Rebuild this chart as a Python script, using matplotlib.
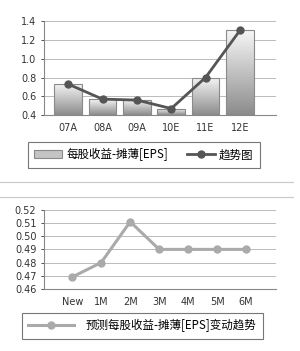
import matplotlib
matplotlib.use('Agg')
import matplotlib.pyplot as plt
import numpy as np
from matplotlib.lines import Line2D
from matplotlib.patches import Patch

plt.rcParams['font.family'] = ['DejaVu Sans', 'Noto Sans CJK SC']

# data
years = ['07A', '08A', '09A', '10E', '11E', '12E']
eps = [0.73, 0.57, 0.56, 0.47, 0.80, 1.30]
trend = [0.73, 0.57, 0.56, 0.47, 0.80, 1.30]

months = ['New', '1M', '2M', '3M', '4M', '5M', '6M']
fcst = [0.469, 0.480, 0.511, 0.490, 0.490, 0.490, 0.490]

fig = plt.figure(figsize=(3.0, 3.51), dpi=100)
fig.patch.set_facecolor('white')

grid_c = '#b0b0b0'
tick_fs = 7

def style_axes(ax):
    for s in ['top', 'right']:
        ax.spines[s].set_visible(False)
    for s in ['left', 'bottom']:
        ax.spines[s].set_color('#888888')
        ax.spines[s].set_linewidth(0.8)
    ax.yaxis.grid(True, color=grid_c, linewidth=0.6)
    ax.set_axisbelow(True)
    ax.tick_params(axis='both', labelsize=tick_fs, colors='#333333', length=2, width=0.6)
    ax.tick_params(axis='x', length=0, pad=6)

# ---- top chart ----
ax1 = fig.add_axes([0.147, 0.672, 0.773, 0.268])
x = np.arange(len(years))
bars = ax1.bar(x, [v - 0.4 for v in eps], bottom=0.4, width=0.81,
               color='none', edgecolor='#8a8a8a', linewidth=0.8, zorder=2)
grad = np.linspace(0, 1, 100).reshape(-1, 1)
cmap = matplotlib.colors.LinearSegmentedColormap.from_list('g', ['#f6f6f6', '#8c8c8c'])
for b in bars:
    x0, y0 = b.get_x(), b.get_y()
    w, h = b.get_width(), b.get_height()
    im = ax1.imshow(grad, cmap=cmap, origin='upper',
                    extent=(x0, x0 + w, y0, y0 + h), aspect='auto', zorder=1.5)
    im.set_clip_path(b)
ax1.plot(x, trend, 'o-', color='#555555', linewidth=2, markersize=5, zorder=3)
ax1.set_xlim(-0.7, 6.05)
ax1.set_ylim(0.4, 1.4)
ax1.set_yticks([0.4, 0.6, 0.8, 1.0, 1.2, 1.4])
ax1.set_yticklabels(['0.4', '0.6', '0.8', '1.0', '1.2', '1.4'])
ax1.set_xticks(x)
ax1.set_xticklabels(years)
style_axes(ax1)

leg_prop = {'family': ['Noto Sans CJK SC', 'DejaVu Sans'], 'size': 8.3}

h1 = [Patch(facecolor='#c4c4c4', edgecolor='#8a8a8a', linewidth=0.8),
      Line2D([], [], color='#555555', marker='o', linewidth=2, markersize=5)]
leg1 = fig.legend(h1, ['每股收益-摊薄[EPS]', '趋势图'], loc='center',
                  bbox_to_anchor=(0.48, 0.559), ncol=2,
                  frameon=True, fancybox=False, edgecolor='#555555',
                  handlelength=2.4, handletextpad=0.4, columnspacing=1.6,
                  borderpad=0.55, prop=leg_prop)
leg1.get_frame().set_linewidth(0.8)

# separator lines
fig.add_artist(Line2D([0, 0.977], [1 - 182 / 351] * 2, color='#c8c8c8', linewidth=0.8))
fig.add_artist(Line2D([0, 0.977], [1 - 197 / 351] * 2, color='#c8c8c8', linewidth=0.8))

# ---- bottom chart ----
ax2 = fig.add_axes([0.147, 0.177, 0.773, 0.225])
xm = np.arange(len(months))
ax2.plot(xm, fcst, 'o-', color='#aaaaaa', linewidth=2.2, markersize=5, zorder=3)
ax2.set_xlim(-0.97, 7.03)
ax2.set_ylim(0.46, 0.52)
yt = [0.46, 0.47, 0.48, 0.49, 0.50, 0.51, 0.52]
ax2.set_yticks(yt)
ax2.set_yticklabels(['%.2f' % v for v in yt])
ax2.set_xticks(xm)
ax2.set_xticklabels(months)
style_axes(ax2)

h2 = [Line2D([], [], color='#aaaaaa', marker='o', linewidth=2.2, markersize=5)]
leg2 = fig.legend(h2, ['预测每股收益-摊薄[EPS]变动趋势'], loc='center',
                  bbox_to_anchor=(0.475, 0.072),
                  frameon=True, fancybox=False, edgecolor='#555555',
                  handlelength=4.0, handletextpad=1.0, borderpad=0.55,
                  borderaxespad=0, prop=leg_prop)
leg2.get_frame().set_linewidth(0.8)

fig.savefig('out.png', dpi=100, facecolor='white')
